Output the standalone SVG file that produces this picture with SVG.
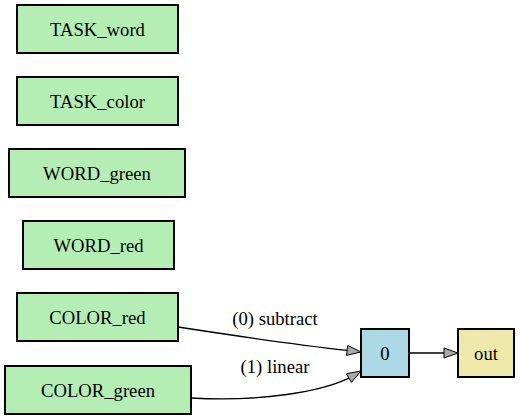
<svg xmlns="http://www.w3.org/2000/svg" width="520" height="419" viewBox="0 0 520 419">
  <style>
    .box { stroke: #000; stroke-width: 2; }
    .g { fill: #b4eeb4; }
    .b { fill: #add8e6; }
    .y { fill: #eee8aa; }
    .wire { fill: none; stroke: #000; stroke-width: 1.3; }
    .head { fill: #a8a8a8; stroke: #000; stroke-width: 1; }
    .lbl { font-family: "Liberation Serif", serif !important; font-size: 18.67px !important; text-anchor: middle; fill: #000; }
  </style>
  <rect width="520" height="419" fill="#fff"/>

  <g id="TASK_word">
    <rect class="box g" x="17" y="5" width="161" height="48"/>
    <text class="lbl" x="97.5" y="35.5" style="font-family:'Liberation Serif',serif">TASK_word</text>
  </g>
  <g id="TASK_color">
    <rect class="box g" x="17" y="77" width="161" height="48"/>
    <text class="lbl" x="97.5" y="107.5" style="font-family:'Liberation Serif',serif">TASK_color</text>
  </g>
  <g id="WORD_green">
    <rect class="box g" x="9" y="149" width="176" height="48"/>
    <text class="lbl" x="97" y="179.5" style="font-family:'Liberation Serif',serif">WORD_green</text>
  </g>
  <g id="WORD_red">
    <rect class="box g" x="23" y="221" width="151" height="48"/>
    <text class="lbl" x="98.5" y="251.5" style="font-family:'Liberation Serif',serif">WORD_red</text>
  </g>
  <g id="COLOR_red">
    <rect class="box g" x="17" y="293" width="161" height="48"/>
    <text class="lbl" x="97.5" y="323.5" style="font-family:'Liberation Serif',serif">COLOR_red</text>
  </g>
  <g id="COLOR_green">
    <rect class="box g" x="5" y="366" width="186" height="48"/>
    <text class="lbl" x="98" y="396.5" style="font-family:'Liberation Serif',serif">COLOR_green</text>
  </g>
  <g id="op_0">
    <rect class="box b" x="361" y="329" width="48" height="48"/>
    <text class="lbl" x="385" y="359.5" style="font-family:'Liberation Serif',serif">0</text>
  </g>
  <g id="out">
    <rect class="box y" x="458" y="329" width="56" height="48"/>
    <text class="lbl" x="486" y="359.5" style="font-family:'Liberation Serif',serif">out</text>
  </g>

  <g id="links">
    <path class="wire" d="M178,327 C230,335 290,344 347,350.4"/>
    <polygon class="head" points="347.7,345.4 361,352 346.5,355.4"/>
    <path class="wire" d="M191,398 C260,402 320,392 348.9,378.1"/>
    <polygon class="head" points="346.4,373.7 361,371 351.4,382.4"/>
    <path class="wire" d="M409,353 L444,353"/>
    <polygon class="head" points="444,348 458,353 444,358"/>
    <text class="lbl" x="275" y="325" style="font-family:'Liberation Serif',serif">(0) subtract</text>
    <text class="lbl" x="275" y="373" style="font-family:'Liberation Serif',serif">(1) linear</text>
  </g>
</svg>
